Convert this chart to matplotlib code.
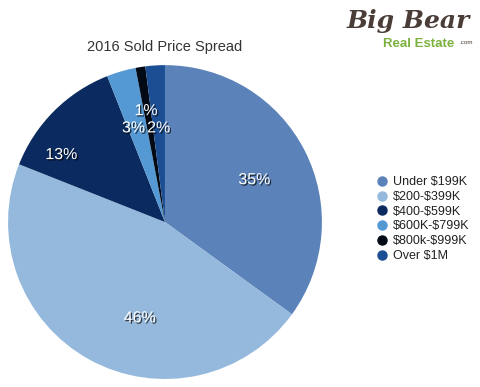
import matplotlib
matplotlib.use('Agg')
import matplotlib.pyplot as plt
import matplotlib.patheffects as pe
from matplotlib.lines import Line2D

########## Data ##########
categories = ['Under \\$199K', '\\$200-\\$399K', '\\$400-\\$599K', '\\$600K-\\$799K', '\\$800k-\\$999K', 'Over \\$1M']
shares     = [35, 46, 13, 3, 1, 2]
colors     = ['#5b83b9', '#95b9dd', '#0b2a5f', '#5599d4', '#020a16', '#1b4e93']

plt.rcParams['font.family'] = ['Liberation Sans', 'DejaVu Sans']

fig = plt.figure(figsize=(4.8, 3.87), dpi=100)
ax = fig.add_axes([0.0167, 0.0207, 0.654, 0.811])

wedges, texts, autotexts = ax.pie(shares, colors=colors, startangle=90, counterclock=False,
                                  autopct='%d%%', pctdistance=0.63,
                                  wedgeprops=dict(linewidth=0))
ax.set_aspect('equal')
ax.set_xlim(-1, 1)
ax.set_ylim(-1, 1)

# where the original placed each percentage (in pie radii)
label_pos = [(0.57, 0.27), (-0.16, -0.61), (-0.66, 0.43),
             (-0.20, 0.60), (-0.12, 0.71), (-0.04, 0.60)]

shadow = [pe.withSimplePatchShadow(offset=(1, -1), shadow_rgbFace='#000000', alpha=0.7)]
for t, p in zip(autotexts, label_pos):
    t.set_position(p)
    t.set_color('white')
    t.set_fontsize(11.5)
    t.set_path_effects(shadow)

# title
fig.text(165 / 480, 1 - 47 / 387, '2016 Sold Price Spread', ha='center', va='center',
         fontsize=10.5, color='#333333')

# legend
handles = [Line2D([], [], linestyle='none', marker='o', markersize=6.5, color=c) for c in colors]
fig.legend(handles, categories, loc='center left', bbox_to_anchor=(368 / 480, 1 - 219 / 387),
           frameon=False, fontsize=9, handletextpad=0.3, labelspacing=0.22,
           handlelength=1.2, borderpad=0, labelcolor='#222222')

# logo
fig.text(383 / 480, 1 - 44 / 387, 'Real Estate', ha='left', va='center', fontsize=9.5,
         weight='bold', color='#7bb13e')
fig.text(408 / 480, 1 - 21 / 387, 'Big Bear', ha='center', va='center', fontsize=18,
         style='italic', weight='bold', family='DejaVu Serif', color='#4a3c36')
fig.text(459 / 480, 1 - 42 / 387, '.com', ha='left', va='center', fontsize=4.5,
         color='#4a3c36')

fig.savefig('out.png', dpi=100)
